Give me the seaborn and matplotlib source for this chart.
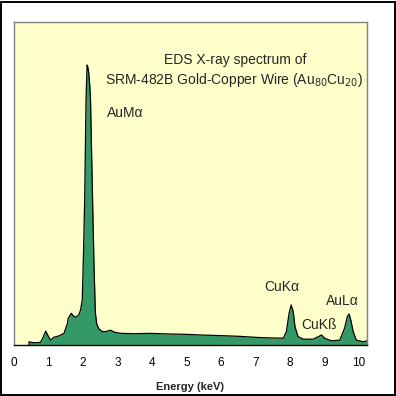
import matplotlib
matplotlib.use("Agg")
import matplotlib.pyplot as plt
import matplotlib.patches as mpatches
import seaborn as sns
import pandas as pd

energy_kev = [0.43, 0.44, 0.50, 0.60, 0.77, 0.85, 0.92, 0.97, 1.06, 1.16, 1.30, 1.45,
              1.55, 1.57, 1.66, 1.72, 1.79, 1.88, 1.93, 1.98, 2.02, 2.05, 2.09, 2.12,
              2.14, 2.17, 2.20, 2.22, 2.25, 2.28, 2.32, 2.36, 2.40, 2.46, 2.57, 2.68,
              2.80, 2.90, 3.09, 3.50, 3.94, 4.50, 5.00, 5.39, 6.00, 6.50, 7.13, 7.42,
              7.81, 7.90, 7.98, 8.04, 8.10, 8.15, 8.24, 8.39, 8.68, 8.87, 8.92, 9.01,
              9.21, 9.45, 9.59, 9.67, 9.72, 9.77, 9.84, 9.93, 10.13, 10.24]
counts = [0.0, 1.0, 0.8, 0.7, 0.8, 2.5, 4.3, 3.2, 1.5, 2.4, 2.8, 3.6,
          6.7, 8.2, 9.8, 9.0, 8.6, 9.3, 10.8, 13.9, 30.0, 44.8, 75.8, 86.6,
          86.1, 84.0, 80.0, 75.8, 60.0, 44.8, 25.0, 10.0, 6.5, 5.0, 4.1, 4.2,
          4.6, 4.0, 3.6, 3.5, 3.6, 3.4, 3.3, 3.1, 2.9, 2.7, 2.3, 2.2,
          2.1, 4.1, 9.8, 12.4, 10.3, 5.7, 2.6, 1.8, 1.8, 2.8, 3.1, 2.1,
          1.3, 1.5, 5.2, 8.8, 9.6, 7.7, 4.1, 1.5, 1.0, 1.3]
x_ticks = [0, 1, 2, 3, 4, 5, 6, 7, 8, 9, 10]

df = pd.DataFrame({"Energy": energy_kev, "Counts": counts})

sns.set_theme(style="white")
plt.rcParams["font.family"] = ["Liberation Sans", "DejaVu Sans"]

fig = plt.figure(figsize=(3.96, 3.96), dpi=100)
fig.patch.set_facecolor("white")
ax = fig.add_axes([14 / 396, 1 - 345 / 396, (367 - 14) / 396, (345 - 21.7) / 396])
ax.set_facecolor("#FFFFCC")

ax.fill_between(df["Energy"], df["Counts"], 0, color="#339966", linewidth=0)
sns.lineplot(data=df, x="Energy", y="Counts", ax=ax, color="black", linewidth=0.9)

ax.set_xlim(0, 10.24)
ax.set_ylim(0, 100)
ax.set_xticks(x_ticks)
ax.set_xticklabels([str(t) for t in x_ticks], fontsize=8.5)
ax.set_yticks([])
ax.tick_params(axis="x", length=0, pad=9, colors="black")
ax.set_xlabel("Energy (keV)", fontsize=8, fontweight="bold", labelpad=9)
ax.set_ylabel("")

for side in ["left", "top", "right"]:
    ax.spines[side].set_color("#808080")
    ax.spines[side].set_linewidth(1.0)
ax.spines["bottom"].set_color("black")
ax.spines["bottom"].set_linewidth(1.0)

ax.text(6.41, 88.2, "EDS X-ray spectrum of", ha="center", va="center", fontsize=10)
ax.text(6.40, 82.0, "SRM-482B Gold-Copper Wire (Au$_{80}$Cu$_{20}$)", ha="center", va="center", fontsize=10)
ax.text(2.70, 71.8, "AuMα", ha="left", va="center", fontsize=10)
ax.text(7.25, 17.9, "CuKα", ha="left", va="center", fontsize=10)
ax.text(8.32, 6.2, "CuKß", ha="left", va="center", fontsize=10)
ax.text(9.04, 13.6, "AuLα", ha="left", va="center", fontsize=10)

frame = mpatches.Rectangle((1 / 396, 1.5 / 396), 393.5 / 396, 393 / 396, transform=fig.transFigure,
                           fill=False, edgecolor="black", linewidth=1.4)
fig.patches.append(frame)

fig.savefig("out.png", dpi=100)
